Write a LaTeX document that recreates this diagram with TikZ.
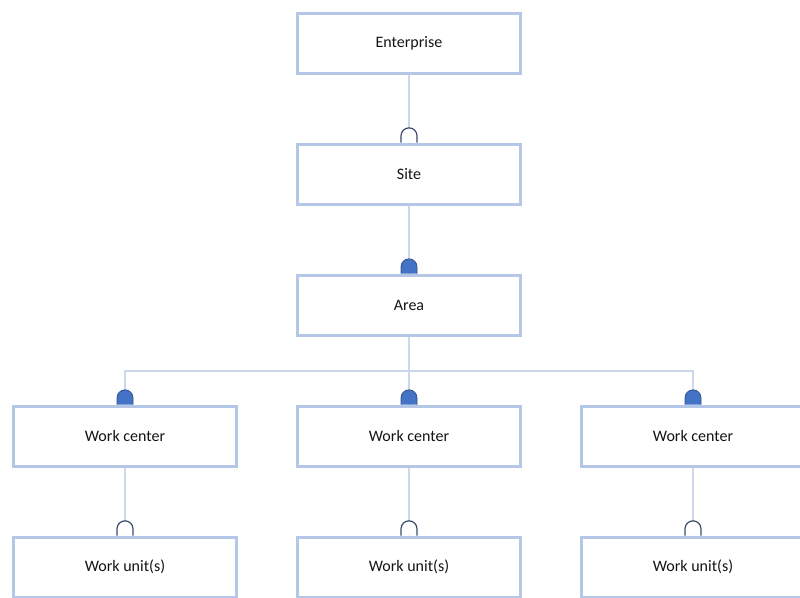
\documentclass[tikz,border=0pt]{standalone}
\usepackage{fontspec}
\setmainfont{Carlito}
\usetikzlibrary{positioning,calc}

\definecolor{boxblue}{HTML}{B4C7E7}
\definecolor{linkblue}{HTML}{CDD7EB}
\definecolor{capfill}{HTML}{4472C4}
\definecolor{capline}{HTML}{2F528F}
\definecolor{capdark}{HTML}{3B4B6D}

% dome on top of a box: #1 = style, #2 = point on the box top
\newcommand{\drawcap}[2]{%
  \filldraw[#1] ($(#2)+(-6pt,0)$) -- ++(0,5pt)
    arc[start angle=180,end angle=0,radius=6pt] -- ++(0,-5pt);}

\begin{document}
\begin{tikzpicture}[
    levelbox/.style={
       rectangle,
       draw=boxblue,
       line width=2.25pt,
       fill=white,
       minimum width=167.25pt,
       minimum height=45pt,
       text=black!92,
       font=\fontsize{12}{14}\selectfont},
    link/.style={draw=linkblue, line width=1.5pt},
    opencap/.style={draw=capdark, fill=white, line width=0.9pt},
    fullcap/.style={draw=capline, fill=capfill, line width=0.6pt},
    node distance=51pt and 43.5pt
    ]
    \useasboundingbox (0,0) rectangle (600pt,-447.75pt);
    \clip (0,0) rectangle (600pt,-447.75pt);

    \node[levelbox] (ent) at (306.75pt,-32.25pt) {Enterprise};
    \node[levelbox,below=of ent] (site) {Site};
    \node[levelbox,below=of site] (area) {Area};
    \node[levelbox,below=of area] (wc2) {Work center};
    \node[levelbox,left=of wc2] (wc1) {Work center};
    \node[levelbox,right=of wc2] (wc3) {Work center};
    \foreach \i in {1,2,3}
      \node[levelbox,below=of wc\i] (wu\i) {Work unit(s)};

    % connectors
    \draw[link] (ent.south) -- (site.north);
    \draw[link] (site.south) -- (area.north);
    \coordinate (bus) at ($(area.south)!0.5!(wc2.north)$);
    \draw[link] (area.south) -- (bus);
    \foreach \i in {1,2,3} {
      \draw[link] (bus) -| (wc\i.north);
      \draw[link] (wc\i.south) -- (wu\i.north);
    }

    % caps
    \drawcap{opencap}{site.north}
    \drawcap{fullcap}{area.north}
    \foreach \i in {1,2,3} {
      \drawcap{fullcap}{wc\i.north}
      \drawcap{opencap}{wu\i.north}
    }
\end{tikzpicture}
\end{document}
